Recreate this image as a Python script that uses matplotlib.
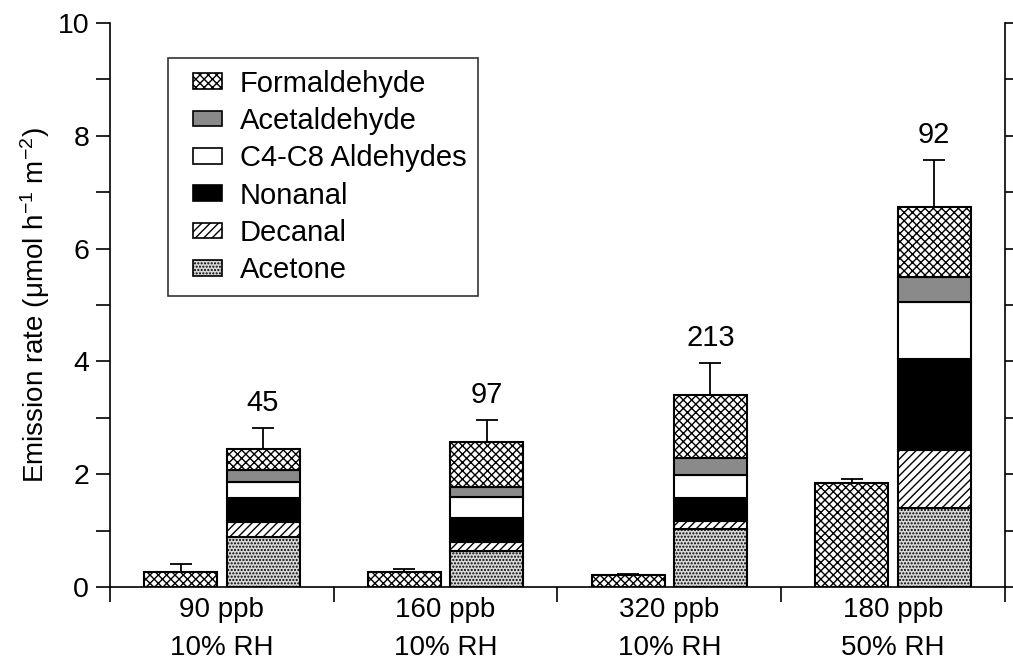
import matplotlib
matplotlib.use("Agg")
import matplotlib.pyplot as plt
import matplotlib.patches as mpatches
from matplotlib.legend_handler import HandlerPatch
import numpy as np

plt.rcParams['font.family'] = ['Liberation Sans', 'DejaVu Sans']
plt.rcParams['mathtext.fontset'] = 'custom'
plt.rcParams['mathtext.rm'] = 'Liberation Sans'
plt.rcParams['mathtext.it'] = 'Liberation Sans:italic'
plt.rcParams['hatch.linewidth'] = 1.0

categories = ["90 ppb\n10% RH", "160 ppb\n10% RH", "320 ppb\n10% RH", "180 ppb\n50% RH"]
species = ["Formaldehyde", "Acetaldehyde", "C4-C8 Aldehydes", "Nonanal", "Decanal", "Acetone"]

# left bar (formaldehyde only) and its error
left_bar = [0.26, 0.26, 0.21, 1.85]
left_err = [0.14, 0.06, 0.02, 0.06]

# stacked right bar segment heights
acetone = [0.89, 0.64, 1.02, 1.40]
decanal = [0.27, 0.16, 0.15, 1.02]
nonanal = [0.42, 0.42, 0.40, 1.62]
c4c8 = [0.29, 0.37, 0.42, 1.02]
acetaldehyde = [0.20, 0.19, 0.29, 0.44]
formaldehyde = [0.37, 0.79, 1.12, 1.23]
right_err = [0.37, 0.39, 0.57, 0.84]
labels_top = ["45", "97", "213", "92"]

styles = {
    "Formaldehyde": dict(facecolor="white", hatch="xxxx"),
    "Acetaldehyde": dict(facecolor="#8a8a8a", hatch=None),
    "C4-C8 Aldehydes": dict(facecolor="white", hatch=None),
    "Nonanal": dict(facecolor="black", hatch=None),
    "Decanal": dict(facecolor="white", hatch="////"),
    "Acetone": dict(facecolor="#d8d8d8", hatch="....."),
}

FS = 21

fig = plt.figure(figsize=(10.13, 6.68), dpi=100)
ax = fig.add_axes([0.1086, 0.1213, 0.992 - 0.1086, 0.9656 - 0.1213])

x = np.arange(len(categories))
w = 0.326
off = 0.184
lw = 1.5

ax.bar(x - off, left_bar, w, facecolor="white", hatch="xxxx", edgecolor="black", linewidth=lw, zorder=2)
ax.errorbar(x - off, left_bar, yerr=[np.zeros(4), left_err], fmt="none", ecolor="black",
            elinewidth=1.3, capsize=8, capthick=1.3, zorder=1)

stack = [("Acetone", acetone), ("Decanal", decanal), ("Nonanal", nonanal),
         ("C4-C8 Aldehydes", c4c8), ("Acetaldehyde", acetaldehyde), ("Formaldehyde", formaldehyde)]
bottom = np.zeros(4)
for name, vals in stack:
    st = styles[name]
    ax.bar(x + off, vals, w, bottom=bottom, facecolor=st["facecolor"], hatch=st["hatch"],
           edgecolor="black", linewidth=lw, zorder=2)
    bottom = bottom + np.array(vals)

ax.errorbar(x + off, bottom, yerr=[np.zeros(4), right_err], fmt="none", ecolor="black",
            elinewidth=1.3, capsize=8, capthick=1.3, zorder=1)
for xi, top, e, lab in zip(x, bottom, right_err, labels_top):
    ax.annotate(lab, (xi + off, top + e), xytext=(0, 8), textcoords="offset points",
                ha="center", va="bottom", fontsize=FS)

ax.set_xlim(-0.5, 3.5)
ax.set_ylim(0, 10)
ax.set_yticks([0, 2, 4, 6, 8, 10])
ax.set_yticks([1, 3, 5, 7, 9], minor=True)
ax.tick_params(axis="y", which="both", direction="out", length=10, width=1.2,
               labelsize=FS - 0.5, right=True, left=True, pad=5)
ax.set_xticks(x)
ax.set_xticklabels(categories, fontsize=20, linespacing=1.6)
ax.set_xticks([-0.5, 0.5, 1.5, 2.5, 3.5], minor=True)
ax.tick_params(axis="x", which="major", length=0, pad=7)
ax.tick_params(axis="x", which="minor", length=11, width=1.2, direction="out")
ax.spines["top"].set_visible(False)
for s in ["left", "right", "bottom"]:
    ax.spines[s].set_linewidth(1.2)

ax.set_ylabel("Emission rate (μmol h$^{-1}$ m$^{-2}$)", fontsize=20, labelpad=4)

leg_handles = [mpatches.Patch(facecolor=styles[n]["facecolor"], hatch=styles[n]["hatch"],
                              edgecolor="black", linewidth=1.2) for n in species]
leg = ax.legend(leg_handles, species, loc="upper left",
                bbox_to_anchor=(0.065, 0.938), fontsize=FS, frameon=True, fancybox=False,
                edgecolor="black", handlelength=1.45, handleheight=0.45, labelspacing=0.32,
                borderpad=0.4, handletextpad=0.6, borderaxespad=0,
                handler_map={mpatches.Patch: HandlerPatch(xpad=0.45)})
leg.get_frame().set_linewidth(1.2)

fig.savefig("out.png", dpi=100)
